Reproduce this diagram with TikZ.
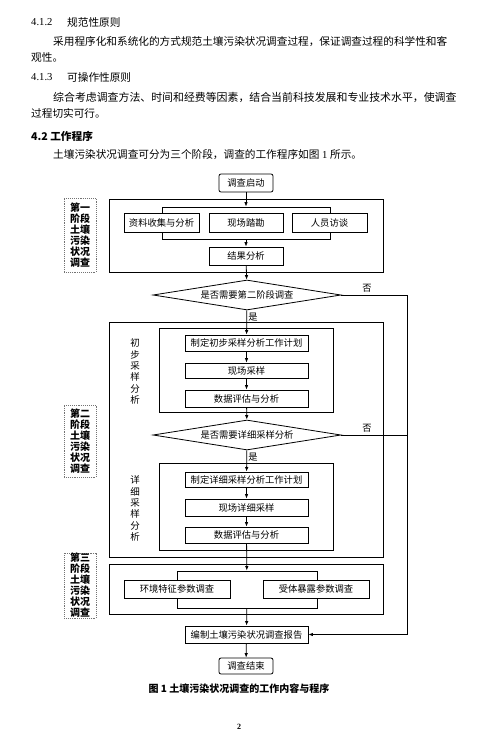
\documentclass[tikz,border=0pt]{standalone}
\usepackage{fontspec}
\setmainfont{Liberation Serif}
\newfontfamily\cjk{Noto Sans CJK SC}
\usetikzlibrary{shapes.geometric, positioning, arrows.meta}

\begin{document}
\begin{tikzpicture}[
    x=1pt, y=-1pt,
    >={Latex[length=4.5pt, width=3.5pt]},
    % Text of the page around the chart
    para/.style={anchor=west, inner sep=0pt, font=\cjk\fontsize{10.65}{12}\selectfont},
    % Plain boxes of the chart
    box/.style={draw, line width=0.8pt, fill=white, inner sep=0pt,
        font=\cjk\fontsize{9.3}{11}\selectfont},
    endbox/.style={box, rounded corners=2pt},
    % Frames round each stage and round groups of boxes
    stagebox/.style={draw, line width=0.8pt, inner sep=0pt},
    decision/.style={diamond, draw, line width=0.8pt, fill=white, aspect=6.3,
        inner sep=0pt, minimum width=188pt, minimum height=30pt,
        font=\cjk\fontsize{9.3}{11}\selectfont},
    % Dotted labels on the left
    phase/.style={draw=black!55, densely dotted, line width=0.9pt, minimum width=32pt,
        align=center, inner sep=0pt, font=\cjk\bfseries\fontsize{10}{11}\selectfont},
    sidetext/.style={align=center, inner sep=0pt, font=\cjk\fontsize{9.5}{11.4}\selectfont},
    lbl/.style={inner sep=0pt, font=\cjk\fontsize{9.3}{11}\selectfont},
    flow/.style={->, line width=0.8pt}
]
    \useasboundingbox (0,0) rectangle (502,736);

    % --- Text above the chart ---
    \node[para] (h412) at (31,22) {\rmfamily 4.1.2};
    \node[para] (h412t) at (67,22) {规范性原则};
    \node[para] (p1a) at (53,42) {采用程序化和系统化的方式规范土壤污染状况调查过程，保证调查过程的科学性和客};
    \node[para] (p1b) at (31,57) {观性。};
    \node[para] (h413) at (31,77) {\rmfamily 4.1.3};
    \node[para] (h413t) at (67,77) {可操作性原则};
    \node[para, font=\cjk\fontsize{10.9}{12}\selectfont] (p2a) at (53,97) {综合考虑调查方法、时间和经费等因素，结合当前科技发展和专业技术水平，使调查};
    \node[para] (p2b) at (31,113) {过程切实可行。};
    \node[para, font=\cjk\bfseries\fontsize{10.65}{12}\selectfont] (h42) at (31,136) {4.2 工作程序};
    \node[para] (p3) at (53,155) {土壤污染状况调查可分为三个阶段，调查的工作程序如图{\rmfamily\ 1 }所示。};

    % --- Stage frames ---
    \node[stagebox, minimum width=274pt, minimum height=73pt] (stage1) at (246,235.5) {};
    \node[stagebox, minimum width=274pt, minimum height=235pt] (stage2) at (246,439.5) {};
    \node[stagebox, minimum width=274pt, minimum height=50pt] (stage3) at (246,589) {};
    \node[stagebox, minimum width=168pt, minimum height=32pt] (s1in) at (246,223) {};
    \node[stagebox, minimum width=174pt, minimum height=84pt] (s2in) at (246,370) {};
    \node[stagebox, minimum width=174pt, minimum height=87pt] (s2det) at (246,506.5) {};
    \node[stagebox, minimum width=140pt, minimum height=37pt] (s3in) at (247,589.5) {};

    % --- Stage one ---
    \node[endbox, minimum width=54pt, minimum height=18pt] (start) at (246,183) {调查启动};
    \node[box, minimum width=75pt, minimum height=19pt] (collect) at (161.5,222.5) {资料收集与分析};
    \node[box, minimum width=74pt, minimum height=19pt] (survey) at (246,222.5) {现场踏勘};
    \node[box, minimum width=75pt, minimum height=19pt] (interview) at (329.5,222.5) {人员访谈};
    \node[box, minimum width=74pt, minimum height=18pt] (result) at (246,256) {结果分析};
    \node[decision] (need2) at (247,295) {是否需要第二阶段调查};

    % --- Stage two ---
    \node[box, minimum width=123pt, minimum height=16pt] (plan1) at (246.5,343) {制定初步采样分析工作计划};
    \node[box, minimum width=123pt, minimum height=15pt] (sample1) at (246.5,370.5) {现场采样};
    \node[box, minimum width=123pt, minimum height=17pt] (eval1) at (246.5,398.5) {数据评估与分析};
    \node[decision] (needdet) at (247,435) {是否需要详细采样分析};
    \node[box, minimum width=123pt, minimum height=15pt] (plan2) at (246.5,479.5) {制定详细采样分析工作计划};
    \node[box, minimum width=123pt, minimum height=17pt] (sample2) at (246.5,507.5) {现场详细采样};
    \node[box, minimum width=123pt, minimum height=16pt] (eval2) at (246.5,535) {数据评估与分析};
    \node[sidetext] (side1) at (135,371.5) {初\\步\\采\\样\\分\\析};
    \node[sidetext] (side2) at (135,508.5) {详\\细\\采\\样\\分\\析};

    % --- Stage three ---
    \node[box, minimum width=106pt, minimum height=18pt] (envpar) at (177,589) {环境特征参数调查};
    \node[box, minimum width=106pt, minimum height=18pt] (recpar) at (316,589) {受体暴露参数调查};
    \node[box, minimum width=123pt, minimum height=17pt] (report) at (246.5,634.5) {编制土壤污染状况调查报告};
    \node[endbox, minimum width=54pt, minimum height=16pt] (finish) at (246,666) {调查结束};

    % --- Dotted stage labels ---
    \node[phase, minimum height=74pt] (phase1) at (80,235) {第一\\阶段\\土壤\\污染\\状况\\调查};
    \node[phase, minimum height=72pt] (phase2) at (80,441) {第二\\阶段\\土壤\\污染\\状况\\调查};
    \node[phase, minimum height=65pt] (phase3) at (80,585.5) {第三\\阶段\\土壤\\污染\\状况\\调查};

    % --- Connectors ---
    \draw[flow] (start) -- (s1in);
    \draw[flow] (s1in) -- (result);
    \draw[flow] (result) -- (need2);
    \draw[flow] (need2) -- (plan1);
    \draw[flow] (plan1) -- (sample1);
    \draw[flow] (sample1) -- (eval1);
    \draw[flow] (eval1) -- (needdet);
    \draw[flow] (needdet) -- (plan2);
    \draw[flow] (plan2) -- (sample2);
    \draw[flow] (sample2) -- (eval2);
    \draw[flow] (eval2) -- (s3in);
    \draw[flow] (s3in) -- (report);
    \draw[flow] (report) -- (finish);

    % "no" branches join on the right
    \coordinate (rtop) at (407,295);
    \draw[flow] (need2.east) -- (rtop) |- (report.east);
    \draw[line width=0.8pt] (needdet.east) -- (needdet.east -| rtop);

    \node[lbl] (no1) at (367,288) {否};
    \node[lbl] (no2) at (367,428) {否};
    \node[lbl] (yes1) at (253,317) {是};
    \node[lbl] (yes2) at (253,457) {是};

    % --- Caption and page number ---
    \node[font=\cjk\bfseries\fontsize{10}{12}\selectfont] (caption) at (239,689) {图 1 土壤污染状况调查的工作内容与程序};
    \node[font=\bfseries\fontsize{8}{9}\selectfont] (pagenum) at (239,727) {2};
\end{tikzpicture}
\end{document}
